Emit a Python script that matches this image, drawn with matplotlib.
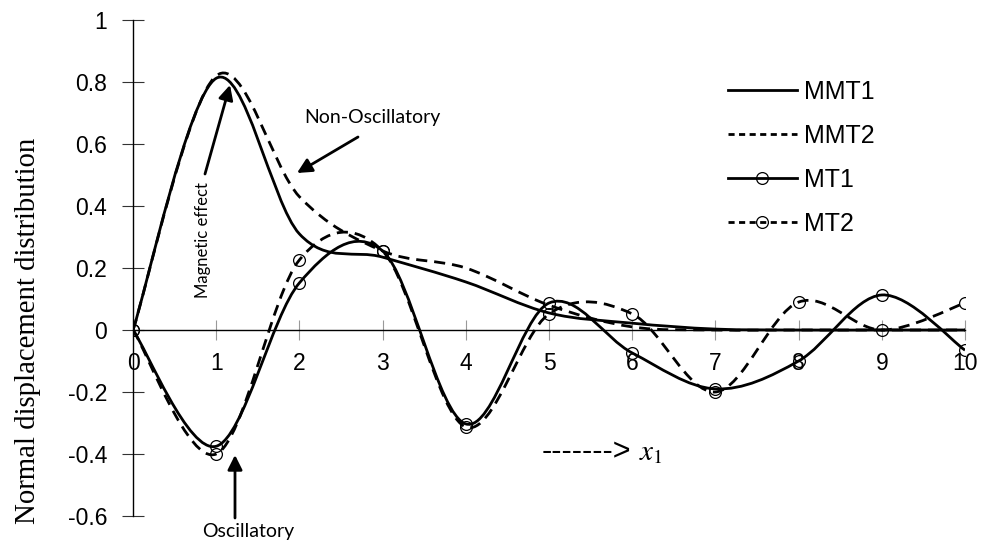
import matplotlib
matplotlib.use("Agg")
import matplotlib.pyplot as plt
from matplotlib.path import Path
from matplotlib.patches import PathPatch
from matplotlib.lines import Line2D

plt.rcParams['axes.unicode_minus'] = False
plt.rcParams['mathtext.fontset'] = 'stix'

# ---------------- data ----------------
x_vals = [0, 1, 2, 3, 4, 5, 6, 7, 8, 9, 10]
mmt1 = [0, 0.812, 0.31, 0.235, 0.155, 0.055, 0.022, 0.003, 0, 0, 0]
mmt2 = [0, 0.82, 0.43, 0.255, 0.20, 0.08, 0.01, 0.0, 0, 0, 0]
mt1 = [0, -0.375, 0.152, 0.255, -0.303, 0.087, -0.074, -0.19, -0.10, 0.113, -0.065]
mt2 = [0, -0.40, 0.226, 0.255, -0.313, 0.052, 0.052, -0.20, 0.09, 0.0, 0.087]
series_names = ["MMT1", "MMT2", "MT1", "MT2"]
y_ticks = [1, 0.8, 0.6, 0.4, 0.2, 0, -0.2, -0.4, -0.6]
y_tick_labels = ["1", "0.8", "0.6", "0.4", "0.2", "0", "-0.2", "-0.4", "-0.6"]
x_ticks = [0, 1, 2, 3, 4, 5, 6, 7, 8, 9, 10]
x_tick_labels = ["0", "1", "2", "3", "4", "5", "6", "7", "8", "9", "10"]


def smooth_path(xs, ys):
    """Excel-like smoothed line: cubic Bezier through the data points."""
    n = len(xs)
    verts = [(xs[0], ys[0])]
    codes = [Path.MOVETO]
    for i in range(n - 1):
        x0, y0 = xs[max(i - 1, 0)], ys[max(i - 1, 0)]
        x1, y1 = xs[i], ys[i]
        x2, y2 = xs[i + 1], ys[i + 1]
        x3, y3 = xs[min(i + 2, n - 1)], ys[min(i + 2, n - 1)]
        c1 = (x1 + (x2 - x0) / 6.0, y1 + (y2 - y0) / 6.0)
        c2 = (x2 - (x3 - x1) / 6.0, y2 - (y3 - y1) / 6.0)
        verts += [c1, c2, (x2, y2)]
        codes += [Path.CURVE4] * 3
    return Path(verts, codes)


W, H = 982, 545
fig = plt.figure(figsize=(W / 100, H / 100), dpi=100)
ax = fig.add_axes([133 / W, (H - 516) / H, 832 / W, 496 / H])
ax.set_xlim(0, 10)
ax.set_ylim(-0.6, 1)

lw = 2.0
dash = (0, (4, 2.5))
styles = [('-', None), (dash, None), ('-', 'o'), (dash, 'o')]
for ys, (ls, mk) in zip([mmt1, mmt2, mt1, mt2], styles):
    p = PathPatch(smooth_path(x_vals, ys), fill=False, edgecolor='black',
                  lw=lw, linestyle=ls, capstyle='butt', zorder=3)
    ax.add_patch(p)
    if mk:
        ax.plot(x_vals, ys, linestyle='none', marker='o', ms=8.5,
                mfc='none', mec='black', mew=0.9, zorder=4)

# axes styling
for s in ['top', 'right']:
    ax.spines[s].set_visible(False)
ax.spines['bottom'].set_position(('data', 0))
ax.spines['left'].set_linewidth(1.0)
ax.spines['bottom'].set_linewidth(1.0)

ax.set_yticks(y_ticks)
ax.set_yticklabels(y_tick_labels, fontfamily='Liberation Sans', fontsize=16.5)
ax.set_xticks(x_ticks)
ax.set_xticklabels(x_tick_labels, fontfamily='Liberation Sans', fontsize=16.5)
ax.tick_params(axis='y', direction='inout', length=16, width=0.8, color='#333333', pad=10.5)
ax.tick_params(axis='x', direction='inout', length=15, width=0.8, color='#999999', pad=8)

ax.set_ylabel("Normal displacement distribution", fontfamily='Liberation Serif',
              fontsize=20.7)
ax.yaxis.set_label_coords(-0.11, 0.373)

# legend
handles = [Line2D([], [], color='black', lw=lw, ls='-'),
           Line2D([], [], color='black', lw=lw, ls=(0, (2.2, 1.6))),
           Line2D([], [], color='black', lw=lw, ls='-', marker='o', ms=8.5, mfc='none', mew=0.9),
           Line2D([], [], color='black', lw=lw, ls=(0, (2.2, 1.6)), marker='o', ms=8.5, mfc='none', mew=0.9)]
leg = fig.legend(handles, series_names, loc='upper left',
                 bbox_to_anchor=(728 / W, 1 - 80 / H), frameon=False,
                 prop={'family': 'Liberation Sans', 'size': 18},
                 handlelength=2.75, handletextpad=0.3, labelspacing=0.8,
                 borderpad=0, borderaxespad=0)

# annotations
def px(xp, yp):
    return ((xp - 133) / 83.2, (330 - yp) / 310.0)

arrow = dict(arrowstyle='-|>', lw=2, color='black', mutation_scale=22, shrinkA=0, shrinkB=0)
ax.annotate("", xy=px(230, 85), xytext=px(205, 174), arrowprops=arrow, annotation_clip=False)
ax.annotate("", xy=px(297, 173), xytext=px(358, 137), arrowprops=arrow, annotation_clip=False)
ax.annotate("", xy=px(235, 455), xytext=px(235, 518), arrowprops=arrow, annotation_clip=False)

ax.text(*px(203, 240), "Magnetic effect", rotation=90, ha='center', va='center',
        fontfamily='Lato', fontsize=12)
ax.text(*px(372, 118), "Non-Oscillatory", ha='center', va='center',
        fontfamily='Lato', fontsize=14)
ax.text(*px(248, 532), "Oscillatory", ha='center', va='center',
        fontfamily='Lato', fontsize=14, clip_on=False)

ax.text(*px(542, 452), "------->", ha='left', va='center',
        fontfamily='Liberation Sans', fontsize=22)
ax.text(*px(639, 452), r"$\mathit{x}_{\mathit{1}}$", ha='left', va='center',
        fontsize=21)

fig.savefig("out.png", dpi=100)
